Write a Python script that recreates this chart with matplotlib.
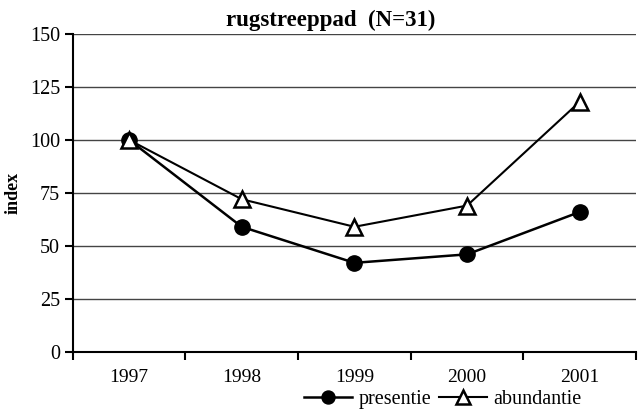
import numpy as np
import matplotlib.pyplot as plt

plt.rcParams['font.family'] = ['Liberation Serif', 'DejaVu Serif']

years = ['1997', '1998', '1999', '2000', '2001']
presentie = [100, 59, 42, 46, 66]
abundantie = [100, 72, 59, 69, 118]

fig = plt.figure(figsize=(6.38, 4.13), dpi=100)
ax = fig.add_axes([0.114, 0.148, 0.883, 0.770])

x = np.arange(len(years)) + 0.5
ax.plot(x, presentie, color='black', lw=1.8, marker='o', ms=11,
        markerfacecolor='black', label='presentie', zorder=3)
ax.plot(x, abundantie, color='black', lw=1.5, marker='^', ms=12,
        markerfacecolor='white', markeredgewidth=1.8, label='abundantie', zorder=3)

ax.set_xlim(0, 5)
ax.set_ylim(0, 150)
ax.set_yticks(np.arange(0, 151, 25))
ax.set_xticks(np.arange(0, 6))
ax.set_xticklabels([])
ax.set_xticks(x, minor=True)
ax.set_xticklabels(years, minor=True, fontsize=14)
ax.tick_params(axis='x', which='minor', length=0, pad=12)
ax.tick_params(axis='x', which='major', direction='out', length=6, width=1.5)
ax.tick_params(axis='y', direction='out', length=6, width=1.5, labelsize=14.5, pad=3)

ax.grid(axis='y', color='#444444', lw=1)
ax.set_axisbelow(True)
for s in ['top', 'right']:
    ax.spines[s].set_visible(False)
for s in ['left', 'bottom']:
    ax.spines[s].set_linewidth(1.5)

ax.set_ylabel('index', fontsize=13, fontweight='bold', labelpad=6)
fig.text(0.518, 0.925, 'rugstreeppad  (N=31)', fontsize=16.5, fontweight='bold',
         ha='center', va='bottom')

fig.legend(loc='center', bbox_to_anchor=(0.694, 0.032), ncol=2, frameon=False,
           fontsize=14.5, handlelength=2.4, handletextpad=0.3, columnspacing=0.4,
           borderpad=0, markerscale=0.85)

fig.savefig('out.png', dpi=100)
